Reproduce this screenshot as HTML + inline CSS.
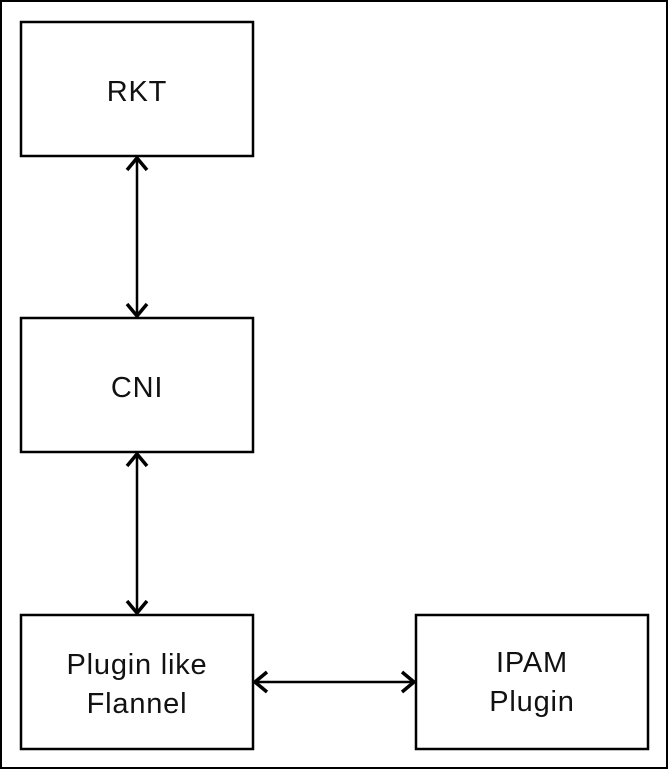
<!DOCTYPE html>
<html><head><style>
html,body{margin:0;padding:0;background:#fff;}
svg{display:block}
text{font-family:"Liberation Sans",sans-serif;font-size:29px;fill:#111;text-anchor:middle;letter-spacing:0.8px}
</style></head><body>
<svg width="669" height="770" viewBox="0 0 669 770">
<rect x="1" y="1" width="666" height="767" fill="#fff" stroke="#000" stroke-width="2"/>
<g fill="none" stroke="#000" stroke-width="2.5">
<rect x="21" y="22" width="232" height="134"/>
<rect x="21" y="318" width="232" height="134"/>
<rect x="21" y="615" width="232" height="134"/>
<rect x="416" y="615" width="232" height="134"/>
<line x1="137" y1="158" x2="137" y2="316"/>
<polyline points="127,170 137,158 147,170" stroke-width="3.5"/>
<polyline points="127,304 137,316 147,304" stroke-width="3.5"/>
<line x1="137" y1="454" x2="137" y2="613"/>
<polyline points="127,466 137,454 147,466" stroke-width="3.5"/>
<polyline points="127,601 137,613 147,601" stroke-width="3.5"/>
<line x1="255" y1="682" x2="414" y2="682"/>
<polyline points="267,672 255,682 267,692" stroke-width="3.5"/>
<polyline points="402,672 414,682 402,692" stroke-width="3.5"/>
</g>
<text x="137" y="101">RKT</text>
<text x="137" y="397">CNI</text>
<text x="137" y="674">Plugin like</text>
<text x="137" y="713">Flannel</text>
<text x="532" y="672">IPAM</text>
<text x="532" y="711">Plugin</text>
</svg>
</body></html>
